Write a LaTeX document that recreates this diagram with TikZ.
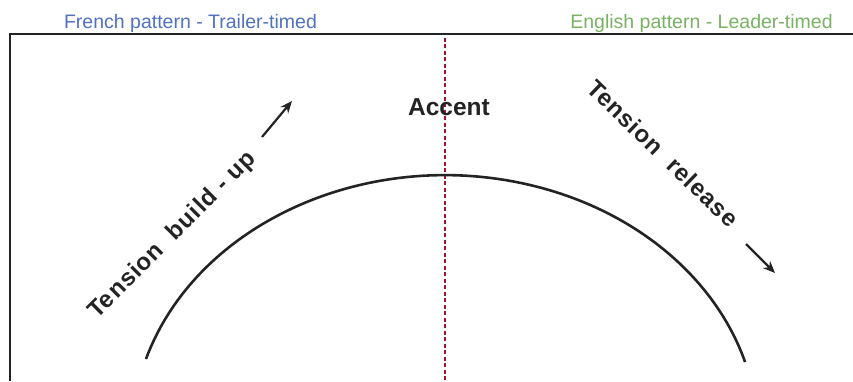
\documentclass[tikz,border=0pt]{standalone}
\usepackage{fontspec}
\setmainfont{Liberation Sans}
\newfontfamily\tensionfont[LetterSpace=4]{Liberation Sans}
\usepackage{xcolor}
\definecolor{frenchblue}{RGB}{80,112,192}
\definecolor{englishgreen}{RGB}{120,178,98}
\definecolor{coal}{RGB}{35,35,35}
\definecolor{accentred}{RGB}{160,20,50}
\usepackage{tikz}
\usetikzlibrary{arrows.meta}
\tikzset{
  patterntitle/.style={font=\fontsize{19.5}{22}\selectfont, inner sep=0pt, anchor=base},
  tensionlabel/.style={font=\tensionfont\bfseries\fontsize{24}{26}\selectfont,
                       text=coal, inner sep=0pt, anchor=base west},
  tensionarrow/.style={draw=coal, line width=2.2pt, -{Stealth[length=12pt,width=10pt]}},
}

\begin{document}
\begin{tikzpicture}[x=1pt,y=1pt]
\useasboundingbox (0,0) rectangle (853,381);
% frame and accent line
\draw[coal, line width=1.8pt] (10,0) -- (10,347) -- (853,347);
\coordinate (accenttop) at (445,343);
\coordinate (accentfoot) at (445,0);
\draw[accentred, line width=1.5pt, dash pattern=on 4pt off 2.5pt] (accenttop) -- (accentfoot);
% curve
\draw[coal, line width=2.6pt] (146,22) arc[start angle=162.8, end angle=16.5, x radius=313pt, y radius=261pt];
% titles
\node[patterntitle, text=frenchblue] (french) at (190.5,352) {French pattern - Trailer-timed};
\node[patterntitle, text=englishgreen] (english) at (701.5,352) {English pattern - Leader-timed};
\node[font=\bfseries\fontsize{24.5}{26}\selectfont, text=coal, inner sep=0pt, anchor=base] (accent) at (449,266) {Accent};
% tension labels
\node[tensionlabel, rotate=45] (buildup) at (97,61) {Tension~~build - up};
\coordinate (buildtail) at (262,244);
\coordinate (buildhead) at (292,280);
\draw[tensionarrow] (buildtail) -- (buildhead);
\node[tensionlabel, rotate=-44] (release) at (585,291) {Tension~~release};
\coordinate (releasetail) at (746,137);
\coordinate (releasehead) at (775,108);
\draw[tensionarrow] (releasetail) -- (releasehead);
\end{tikzpicture}
\end{document}
